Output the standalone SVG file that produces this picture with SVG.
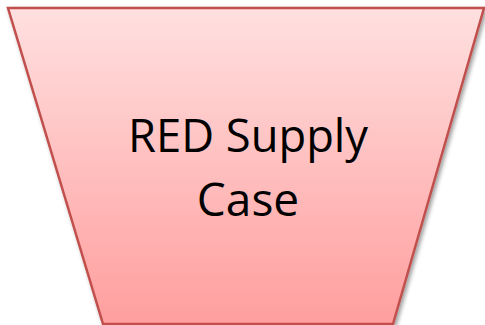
<svg xmlns="http://www.w3.org/2000/svg" width="485" height="325" viewBox="0 0 485 325">
<style>
.lbl{font-family:"Open Sans","Liberation Sans",sans-serif;font-size:46px;fill:#000;text-anchor:middle}
</style>
<defs>
<linearGradient id="g" x1="0" y1="0" x2="0" y2="1">
<stop offset="0" stop-color="#ffe0e0"/>
<stop offset="1" stop-color="#ff9e9e"/>
</linearGradient>
<filter id="sh" x="-10%" y="-10%" width="120%" height="120%">
<feGaussianBlur in="SourceAlpha" stdDeviation="2"/>
<feOffset dx="2" dy="2" result="b"/>
<feComponentTransfer><feFuncA type="linear" slope="0.4"/></feComponentTransfer>
<feMerge><feMergeNode/><feMergeNode in="SourceGraphic"/></feMerge>
</filter>
</defs>
<rect width="485" height="325" fill="#fff"/>
<g id="node-red-supply-case">
<path d="M8,8 L484,8 L393,324 L103,324 Z" fill="url(#g)" stroke="#c0504d" stroke-width="2.5" filter="url(#sh)"/>
<text class="lbl" x="248" y="152" textLength="240" lengthAdjust="spacingAndGlyphs">RED Supply</text>
<text class="lbl" x="248" y="216">Case</text>
</g>
<g id="connectors"/>
</svg>
